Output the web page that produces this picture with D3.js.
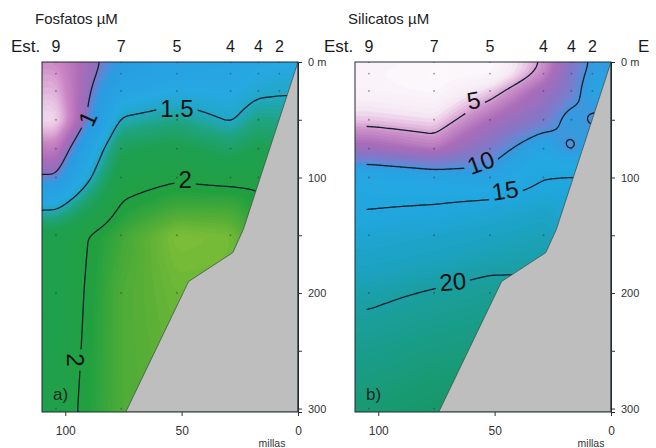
<!DOCTYPE html>
<html><head><meta charset="utf-8">
<script src="https://cdn.jsdelivr.net/npm/d3@7"></script>
<style>
body{margin:0;background:#fff}
svg{display:block}
text{font-family:"Liberation Sans",Arial,Helvetica,sans-serif}
</style>
</head><body>
<svg id="c" width="656" height="448"></svg>
<script>
// ---------- data ----------
const stationMiles = [104, 76, 52, 29, 17, 8];
const stationNames = ["9", "7", "5", "4", "4", "2"];
const depthLevels = [0, 10, 25, 50, 75, 100, 125, 150, 200, 300];
const sampleDepths = [0, 10, 25, 50, 75, 100, 150, 200, 300];
// rows = stations, columns = depthLevels
const fosfatos = [
  [0.75, 0.70, 0.65, 0.55, 0.80, 1.02, 1.45, 1.85, 1.85, 1.90],
  [1.12, 1.18, 1.30, 1.52, 1.75, 1.90, 2.02, 2.15, 2.20, 2.20],
  [1.25, 1.30, 1.40, 1.60, 1.82, 1.97, 2.15, 2.36, 2.30, 2.25],
  [1.30, 1.32, 1.38, 1.48, 1.70, 1.93, 2.15, 2.33, 2.30, 2.30],
  [1.35, 1.40, 1.46, 1.62, 1.80, 1.95, 2.05, 2.10, 2.10, 2.10],
  [1.38, 1.42, 1.48, 1.60, 1.75, 1.90, 2.00, 2.05, 2.05, 2.05]
];
const silicatos = [
  [3.0, 2.8, 3.0, 4.4, 7.0, 12.5, 14.8, 16.8, 19.5, 23.0],
  [2.6, 2.4, 2.6, 4.0, 6.0, 11.5, 15.3, 17.5, 20.2, 24.0],
  [2.5, 2.6, 4.3, 6.5, 8.6, 11.0, 16.2, 18.2, 20.8, 24.0],
  [5.2, 5.6, 7.0, 8.5, 12.0, 14.8, 17.5, 19.0, 20.5, 24.0],
  [8.0, 8.5, 8.8, 11.0, 9.3, 15.3, 16.5, 17.5, 20.0, 23.0],
  [10.5, 10.8, 11.5, 9.5, 12.0, 15.0, 16.0, 17.5, 20.0, 23.0]
];
const bottomMiles = [0, 23.5, 28, 47, 74];
const bottomDepth = [0, 145, 165, 190, 303];

const fosContours = [1, 1.5, 2];
const silContours = [5, 10, 15, 20];
const fosLabelText = ["1", "1.5", "2", "2"];
const fosLabelMile = [90.5, 52, 48.5, 95.7];
const fosLabelDepth = [49, 40, 102, 258];
const silLabelText = ["5", "10", "15", "20"];
const silLabelMile = [59, 56, 45.5, 68];
const silLabelDepth = [33, 87, 111, 190];

const milesTicks = [100, 50, 0];
const depthTicks = [0, 100, 200, 300];
const depthMinor = [50, 150, 250];

// ---------- styles ----------
const fosColorStops = [0.5, 0.62, 0.75, 0.88, 0.99, 1.04, 1.12, 1.4, 1.5, 1.62, 1.78, 2.05, 2.25, 2.4];
const fosColorRange = ["#f8f0f8","#e8c2e2","#cb86c4","#ad6cb8","#8e70be","#5a88d6","#2a9ce2","#26a8e2","#22a8c4","#1fa47e","#1ea052","#22a040","#5cb036","#8ac43a"];
const silColorStops = [2.5, 3.8, 4.5, 5.2, 6.5, 8, 9.3, 10.2, 11, 13, 16, 18.5, 20.5, 23, 25];
const silColorRange = ["#fcf8fc","#f6eaf4","#e6c2e2","#cf94ca","#aa6cb8","#8a74c4","#6c84d2","#3a98de","#2aa2e2","#24a8e2","#20a6dc","#1ca2c0","#1a9e98","#189a72","#169662"];
const fosLabelRot = [-65, 0, 0, 90];
const silLabelRot = [-10, -20, -8, -5];

const W = 656, H = 448;
const Y0 = 62, Y1 = 412, PW = 256, CELL = 2;
const svg = d3.select("#c");
const defs = svg.append("defs");
const y = d3.scaleLinear().domain([0, 303]).range([Y0, Y1]);

function field(table) {
  return (mile, depth) => {
    const n = stationMiles.length;
    const m = Math.max(Math.min(mile, stationMiles[0]), stationMiles[n - 1]);
    let j = 0; while (j < n - 2 && m < stationMiles[j + 1]) j++;
    const m0 = stationMiles[j], m1 = stationMiles[j + 1];
    const tx = (m0 - m) / (m0 - m1);
    const d = Math.max(0, Math.min(depth, 300));
    let k = 0; while (k < depthLevels.length - 2 && d > depthLevels[k + 1]) k++;
    const d0 = depthLevels[k], d1 = depthLevels[k + 1];
    const ty = (d - d0) / (d1 - d0);
    return (1 - tx) * (1 - ty) * table[j][k] + tx * (1 - ty) * table[j + 1][k]
         + (1 - tx) * ty * table[j][k + 1] + tx * ty * table[j + 1][k + 1];
  };
}
function blur(v, nx, ny, r) {
  const tmp = new Float64Array(v.length), out = new Float64Array(v.length);
  for (let j = 0; j < ny; j++) for (let i = 0; i < nx; i++) {
    let s = 0, c = 0;
    for (let k = -r; k <= r; k++) { const ii = Math.min(nx - 1, Math.max(0, i + k)); s += v[j * nx + ii]; c++; }
    tmp[j * nx + i] = s / c;
  }
  for (let j = 0; j < ny; j++) for (let i = 0; i < nx; i++) {
    let s = 0, c = 0;
    for (let k = -r; k <= r; k++) { const jj = Math.min(ny - 1, Math.max(0, j + k)); s += tmp[jj * nx + i]; c++; }
    out[j * nx + i] = s / c;
  }
  return out;
}
function bottomAt(mile) {
  if (mile >= bottomMiles[bottomMiles.length - 1]) return 303;
  for (let i = 0; i < bottomMiles.length - 1; i++) {
    if (mile >= bottomMiles[i] && mile <= bottomMiles[i + 1]) {
      const t = (mile - bottomMiles[i]) / (bottomMiles[i + 1] - bottomMiles[i]);
      return bottomDepth[i] + t * (bottomDepth[i + 1] - bottomDepth[i]);
    }
  }
  return 0;
}

const panels = [
  { id: "a", left: 42, title: "Fosfatos µM", table: fosfatos, lines: fosContours,
    lab: { t: fosLabelText, m: fosLabelMile, d: fosLabelDepth, r: fosLabelRot },
    cs: fosColorStops, cr: fosColorRange, step: 0.02, lineStart: 110, letter: "a)", millasDx: -26 },
  { id: "b", left: 355, title: "Silicatos µM", table: silicatos, lines: silContours,
    lab: { t: silLabelText, m: silLabelMile, d: silLabelDepth, r: silLabelRot },
    cs: silColorStops, cr: silColorRange, step: 0.25, lineStart: 105, letter: "b)", millasDx: -20 }
];

panels.forEach(p => {
  const x = d3.scaleLinear().domain([110, 0]).range([p.left, p.left + PW]);
  const g = svg.append("g");
  const clipId = "clip" + p.id;
  defs.append("clipPath").attr("id", clipId).append("rect")
    .attr("x", p.left).attr("y", Y0).attr("width", PW).attr("height", Y1 - Y0);

  const f = field(p.table);
  const nx = PW / CELL, ny = (Y1 - Y0) / CELL;
  let vals = new Float64Array(nx * ny);
  for (let j = 0; j < ny; j++) for (let i = 0; i < nx; i++)
    vals[j * nx + i] = f(x.invert(p.left + (i + 0.5) * CELL), y.invert(Y0 + (j + 0.5) * CELL));
  vals = blur(blur(vals, nx, ny, 2), nx, ny, 2);

  const color = d3.scaleLinear().domain(p.cs).range(p.cr).interpolate(d3.interpolateRgb).clamp(true);
  const [vmin, vmax] = d3.extent(vals);
  const th = d3.range(Math.floor(vmin / p.step) * p.step, vmax, p.step);
  const bands = d3.contours().size([nx, ny]).smooth(true).thresholds(th)(vals);
  const proj = d3.geoTransform({ point(px, py) { this.stream.point(p.left + px * CELL, Y0 + py * CELL); } });
  const path = d3.geoPath(proj);

  const fillG = g.append("g").attr("clip-path", `url(#${clipId})`);
  fillG.append("rect").attr("x", p.left).attr("y", Y0).attr("width", PW).attr("height", Y1 - Y0).attr("fill", color(vmin));
  fillG.selectAll("path.band").data(bands).join("path").attr("class", "band")
    .attr("d", path).attr("fill", d => color(d.value + p.step / 2))
    .attr("stroke", d => color(d.value + p.step / 2)).attr("stroke-width", 0.4);

  // sample dots
  const dots = [];
  stationMiles.forEach(m => sampleDepths.forEach(d => { if (d <= bottomAt(m) - 3 || d === 0) dots.push([m, d]); }));
  fillG.selectAll("circle.dot").data(dots).join("circle").attr("class", "dot")
    .attr("cx", d => x(d[0])).attr("cy", d => y(d[1])).attr("r", 0.9)
    .attr("fill", "#333").attr("opacity", 0.5);

  // contour lines with label gaps
  const mask = defs.append("mask").attr("id", "mask" + p.id).attr("maskUnits", "userSpaceOnUse")
    .attr("x", 0).attr("y", 0).attr("width", W).attr("height", H);
  mask.append("rect").attr("x", 0).attr("y", 0).attr("width", W).attr("height", H).attr("fill", "#fff");
  const lineClip = "lclip" + p.id;
  defs.append("clipPath").attr("id", lineClip).append("rect")
    .attr("x", x(p.lineStart)).attr("y", Y0).attr("width", p.left + PW - x(p.lineStart)).attr("height", Y1 - Y0);

  const lc = d3.contours().size([nx, ny]).smooth(true).thresholds(p.lines)(vals);
  const onB = pt => pt[0] <= 0.01 || pt[0] >= nx - 0.01 || pt[1] <= 0.01 || pt[1] >= ny - 0.01;
  const PX = pt => (p.left + pt[0] * CELL).toFixed(2), PY = pt => (Y0 + pt[1] * CELL).toFixed(2);
  const lineData = lc.map(mp => {
    let s = "";
    mp.coordinates.forEach(poly => poly.forEach(ring => {
      let pen = false;
      for (let k = 0; k < ring.length - 1; k++) {
        const a = ring[k], b = ring[k + 1];
        if (onB(a) && onB(b)) { pen = false; continue; }
        if (!pen) { s += `M${PX(a)},${PY(a)}`; pen = true; }
        s += `L${PX(b)},${PY(b)}`;
      }
    }));
    return s;
  });
  g.append("g").attr("clip-path", `url(#${lineClip})`)
    .append("g").attr("mask", `url(#mask${p.id})`)
    .selectAll("path").data(lineData).join("path")
    .attr("d", d => d).attr("fill", "none").attr("stroke", "#10202c").attr("stroke-width", 1.3)
    .attr("stroke-linejoin", "round");

  // contour labels
  p.lab.t.forEach((t, i) => {
    const tr = `translate(${x(p.lab.m[i])},${y(p.lab.d[i])}) rotate(${p.lab.r[i]})`;
    const tx = g.append("text").attr("transform", tr).attr("text-anchor", "middle").attr("dy", "0.36em")
      .attr("font-size", 24).attr("fill", "#111").text(t);
    const bb = tx.node().getBBox();
    mask.append("rect").attr("transform", tr).attr("x", bb.x - 4).attr("y", bb.y + 1)
      .attr("width", bb.width + 8).attr("height", bb.height - 2).attr("fill", "#000");
  });

  // bathymetry
  const poly = bottomMiles.map((m, i) => [x(m), y(bottomDepth[i])]);
  poly.push([x(0), y(303)]);
  g.append("path").attr("clip-path", `url(#${clipId})`)
    .attr("d", "M" + poly.map(d => d.join(",")).join("L") + "Z")
    .attr("fill", "#bebebe").attr("stroke", "#3a4a40").attr("stroke-width", 0.7);

  // frame
  g.append("rect").attr("x", p.left).attr("y", Y0).attr("width", PW).attr("height", Y1 - Y0)
    .attr("fill", "none").attr("stroke", "#1e2a30").attr("stroke-width", 1);

  // right axis
  const ra = g.append("g").attr("transform", `translate(${p.left + PW},0)`)
    .call(d3.axisRight(y).tickValues(depthTicks).tickSize(4).tickPadding(6)
      .tickFormat(d => d === 0 ? "0 m" : d));
  ra.append("g").call(d3.axisRight(y).tickValues(depthMinor).tickSize(4).tickFormat(""));
  ra.selectAll("path.domain").attr("stroke", "#1e2a30");
  ra.selectAll("line").attr("stroke", "#333");
  ra.selectAll("text").attr("font-size", 11).attr("fill", "#333").attr("font-family", "Liberation Sans, Arial, sans-serif");

  // bottom axis
  const ba = g.append("g").attr("transform", `translate(0,${Y1})`)
    .call(d3.axisBottom(x).tickValues(milesTicks).tickSize(4).tickPadding(10).tickSizeOuter(0));
  ba.select("path.domain").remove();
  ba.selectAll("line").attr("stroke", "#333");
  ba.selectAll("text").attr("font-size", 12).attr("fill", "#333").attr("font-family", "Liberation Sans, Arial, sans-serif");
  g.append("text").attr("x", x(0) + p.millasDx).attr("y", 447).attr("text-anchor", "middle")
    .attr("font-size", 10.5).attr("fill", "#333").text("millas");

  // titles & stations
  g.append("text").attr("x", p.left - 7).attr("y", 24).attr("font-size", 15).attr("fill", "#222").text(p.title);
  g.append("text").attr("x", p.left - 31).attr("y", 52).attr("font-size", 17).attr("fill", "#1a1a1a").text("Est.");
  g.selectAll("text.st").data(stationMiles).join("text").attr("class", "st")
    .attr("x", d => x(d)).attr("y", 52).attr("text-anchor", "middle")
    .attr("font-size", 16).attr("fill", "#1a1a1a").text((d, i) => stationNames[i]);
  g.append("text").attr("x", p.left + 11).attr("y", 400).attr("font-size", 17).attr("fill", "#1c2a22").text(p.letter);
});
// cut-off header of the next panel
svg.append("text").attr("x", 638).attr("y", 52).attr("font-size", 17).attr("fill", "#1a1a1a").text("E");
</script>
</body></html>
